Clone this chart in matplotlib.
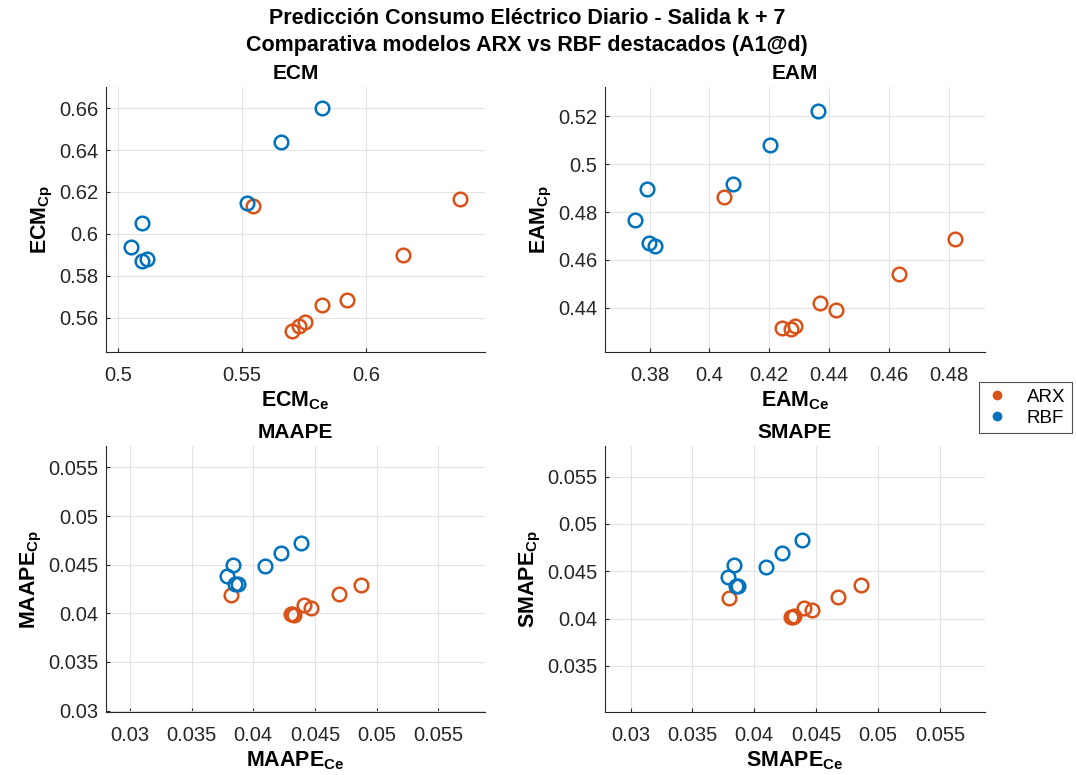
import matplotlib
matplotlib.use('Agg')
import matplotlib.pyplot as plt
import numpy as np
from matplotlib import font_manager
from matplotlib.ticker import FuncFormatter

# ---- data ----
ecm_ce_arx = [0.5542, 0.638, 0.615, 0.5924, 0.582, 0.5752, 0.5731, 0.5699]
ecm_cp_arx = [0.6132, 0.6165, 0.590, 0.5682, 0.5661, 0.558, 0.556, 0.5537]
ecm_ce_rbf = [0.582, 0.5656, 0.5519, 0.5094, 0.5049, 0.5096, 0.5114]
ecm_cp_rbf = [0.660, 0.644, 0.6145, 0.605, 0.5936, 0.5872, 0.588]

eam_ce_arx = [0.4048, 0.4243, 0.4272, 0.4286, 0.437, 0.4423, 0.4634, 0.4823]
eam_cp_arx = [0.4862, 0.4317, 0.431, 0.4325, 0.442, 0.4391, 0.4542, 0.4687]
eam_ce_rbf = [0.4362, 0.4202, 0.408, 0.3792, 0.3751, 0.3798, 0.3817]
eam_cp_rbf = [0.5223, 0.508, 0.4919, 0.4897, 0.4766, 0.4672, 0.4658]

maape_ce_arx = [0.03817, 0.04313, 0.04327, 0.04304, 0.0441, 0.04472, 0.04692, 0.04876]
maape_cp_arx = [0.04192, 0.03998, 0.03987, 0.03992, 0.04086, 0.04051, 0.04195, 0.04291]
maape_ce_rbf = [0.04385, 0.04226, 0.04095, 0.03839, 0.03789, 0.03853, 0.03872]
maape_cp_rbf = [0.04724, 0.04618, 0.04484, 0.04502, 0.04386, 0.04298, 0.04298]

smape_ce_arx = [0.03796, 0.04298, 0.04312, 0.0432, 0.04403, 0.04467, 0.04677, 0.04865]
smape_cp_arx = [0.04221, 0.04022, 0.04014, 0.04029, 0.04112, 0.04087, 0.04232, 0.04355]
smape_ce_rbf = [0.04384, 0.04221, 0.04094, 0.03834, 0.03785, 0.03848, 0.0387]
smape_cp_rbf = [0.04833, 0.04692, 0.04547, 0.04562, 0.04438, 0.04344, 0.04344]

metrics = ['ECM', 'EAM', 'MAAPE', 'SMAPE']
series_names = ['ARX', 'RBF']
title_lines = ['Predicción Consumo Eléctrico Diario - Salida k + 7',
               'Comparativa modelos ARX vs RBF destacados (A1@d)']

# ---- style ----
names = {f.name for f in font_manager.fontManager.ttflist}
base_font = 'Liberation Sans' if 'Liberation Sans' in names else 'DejaVu Sans'
plt.rcParams['font.family'] = [base_font, 'DejaVu Sans']
plt.rcParams['mathtext.fontset'] = 'custom'
plt.rcParams['mathtext.rm'] = base_font
plt.rcParams['mathtext.bf'] = base_font + ':bold'

col_arx = '#D95319'
col_rbf = '#0072BD'
dark = '#262626'

fig = plt.figure(figsize=(10.76, 7.75), dpi=100)
W, H = 1076, 775
boxes = [(106, 87, 485, 352), (605, 87, 985, 352),
         (106, 446, 485, 712), (605, 446, 985, 712)]

panels = [
    (ecm_ce_arx, ecm_cp_arx, ecm_ce_rbf, ecm_cp_rbf,
     (0.495, 0.648), (0.5436, 0.6701), [0.5, 0.55, 0.6], [0.56, 0.58, 0.6, 0.62, 0.64, 0.66]),
    (eam_ce_arx, eam_cp_arx, eam_ce_rbf, eam_cp_rbf,
     (0.3651, 0.4922), (0.4215, 0.5323), [0.38, 0.4, 0.42, 0.44, 0.46, 0.48], [0.44, 0.46, 0.48, 0.5, 0.52]),
    (maape_ce_arx, maape_cp_arx, maape_ce_rbf, maape_cp_rbf,
     (0.02805, 0.0588), (0.02986, 0.0572), [0.03, 0.035, 0.04, 0.045, 0.05, 0.055],
     [0.03, 0.035, 0.04, 0.045, 0.05, 0.055]),
    (smape_ce_arx, smape_cp_arx, smape_ce_rbf, smape_cp_rbf,
     (0.02793, 0.05865), (0.03014, 0.05822), [0.03, 0.035, 0.04, 0.045, 0.05, 0.055],
     [0.035, 0.04, 0.045, 0.05, 0.055]),
]

fmt = FuncFormatter(lambda v, p: f'{v:g}')

for name, box, (xa, ya, xr, yr, xl, yl, xt, yt) in zip(metrics, boxes, panels):
    x0, y0, x1, y1 = box
    ax = fig.add_axes([x0 / W, 1 - y1 / H, (x1 - x0) / W, (y1 - y0) / H])
    ax.plot(xa, ya, 'o', ms=9.8, mfc='none', mec=col_arx, mew=1.8)
    ax.plot(xr, yr, 'o', ms=9.8, mfc='none', mec=col_rbf, mew=1.8)
    ax.set_xlim(*xl)
    ax.set_ylim(*yl)
    ax.set_xticks(xt)
    ax.set_yticks(yt)
    ax.xaxis.set_major_formatter(fmt)
    ax.yaxis.set_major_formatter(fmt)
    ax.grid(True, color='#e3e3e3', lw=0.8)
    ax.set_axisbelow(True)
    for s in ['top', 'right']:
        ax.spines[s].set_visible(False)
    for s in ['left', 'bottom']:
        ax.spines[s].set_color(dark)
        ax.spines[s].set_linewidth(0.8)
    ax.tick_params(direction='in', length=3, width=0.8, color=dark,
                   labelcolor=dark, labelsize=14.5)
    ax.tick_params(axis='x', pad=10)
    ax.tick_params(axis='y', pad=5.5)
    ax.set_xlabel(r'$\mathbf{' + name + r'}_{\mathbf{Ce}}$', fontsize=15.5, labelpad=3)
    ax.set_ylabel(r'$\mathbf{' + name + r'}_{\mathbf{Cp}}$', fontsize=15.5, labelpad=3)
    ax.set_title(name, fontsize=15, fontweight='bold', pad=6)

fig.text(0.49, 1 - 19 / H, title_lines[0], ha='center', va='center',
         fontsize=15.5, fontweight='bold')
fig.text(0.49, 1 - 46 / H, title_lines[1], ha='center', va='center',
         fontsize=15.5, fontweight='bold')

handles = [plt.Line2D([], [], ls='none', marker='o', ms=6, color=c) for c in (col_arx, col_rbf)]
leg = fig.legend(handles, series_names, loc='upper left', bbox_to_anchor=(979 / W, 1 - 382 / H),
                 borderaxespad=0, fontsize=13.5, frameon=True, fancybox=False,
                 handlelength=1.2, handletextpad=1.0, borderpad=0.35, labelspacing=0.2)
leg.get_frame().set_edgecolor(dark)
leg.get_frame().set_linewidth(0.8)

fig.savefig('out.png', dpi=100)
